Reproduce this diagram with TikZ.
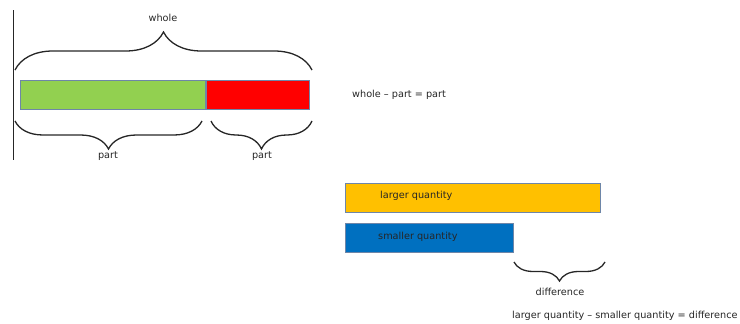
\documentclass[tikz,border=0pt]{standalone}
\usepackage{fontspec}
\setmainfont{DejaVu Sans}
\usetikzlibrary{decorations.pathreplacing}
\definecolor{barborder}{HTML}{6E86A8}
\definecolor{bargreen}{HTML}{92D050}
\definecolor{barred}{HTML}{FF0000}
\definecolor{barorange}{HTML}{FFC000}
\definecolor{barblue}{HTML}{0070C0}
\definecolor{inkgrey}{HTML}{262626}
\tikzset{
  bar/.style={draw=barborder, line width=0.9pt, rectangle, inner sep=0pt, anchor=north west, minimum height=29pt},
  lbl/.style={text=inkgrey, font=\fontsize{9.7}{11}\selectfont, inner sep=1pt},
  bracebig/.style={draw=inkgrey, line width=1.3pt, decorate, decoration={brace, amplitude=#1}},
}
\begin{document}
\begin{tikzpicture}[x=1pt,y=-1pt]
\useasboundingbox (0,0) rectangle (740,324);
% left vertical rule
\coordinate (rtop) at (13,10);
\coordinate (rbot) at (13,160);
\draw[inkgrey, line width=0.9pt] (rtop) -- (rbot);
% part-whole bar
\node[bar, fill=bargreen, minimum width=185pt] (green) at (20,80) {};
\node[bar, fill=barred, minimum width=103pt] (red) at (green.north east) {};
% top brace
\coordinate (wl) at (15,70);
\coordinate (wr) at (312,70);
\draw[bracebig=38pt] (wl) -- (wr);
\node[lbl] (whole) at (163,18) {whole};
% bottom braces
\coordinate (p1l) at (15,121);
\coordinate (p1r) at (202,121);
\coordinate (p2l) at (211,121);
\coordinate (p2r) at (312,121);
\draw[bracebig=28pt] (p1r) -- (p1l);
\draw[bracebig=28pt] (p2r) -- (p2l);
\node[lbl] (part1) at (108,156) {part};
\node[lbl] (part2) at (262,156) {part};
% equation 1
\node[lbl, anchor=west] (eq1) at (351,95) {whole – part = part};
% comparison bars
\node[bar, fill=barorange, minimum width=255pt] (large) at (345,183) {};
\node[bar, fill=barblue, minimum width=168pt] (small) at (345,223) {};
\node[lbl, anchor=west] (largetext) at (379,196) {larger quantity};
\node[lbl, anchor=west] (smalltext) at (377,237) {smaller quantity};
% difference brace
\coordinate (dl) at (514,262);
\coordinate (dr) at (605,262);
\draw[bracebig=19pt] (dr) -- (dl);
\node[lbl] (diff) at (560,292) {difference};
% equation 2
\node[lbl, anchor=west] (eq2) at (511,316) {larger quantity – smaller quantity = difference};
\end{tikzpicture}
\end{document}
